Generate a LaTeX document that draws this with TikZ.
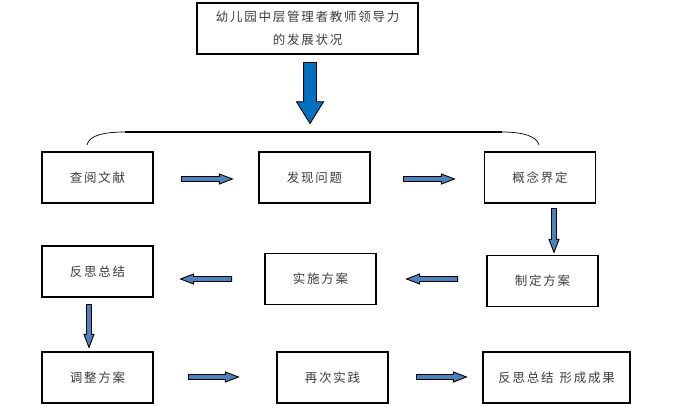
\documentclass[tikz,border=0pt]{standalone}
\usepackage{fontspec}
\setmainfont{Noto Sans CJK SC}[LetterSpace=14]
\usetikzlibrary{shapes.arrows}
\definecolor{txt}{RGB}{60,60,60}
\definecolor{arrblue}{RGB}{79,129,189}
\definecolor{bigblue}{RGB}{0,112,192}
\begin{document}
\begin{tikzpicture}[x=1pt,y=-1pt,
  box/.style={draw=black,line width=1.2pt,minimum width=111pt,minimum height=51pt,inner sep=0pt,
    font=\fontsize{12.5}{14}\selectfont,text=txt},
  barrow/.style={single arrow,draw=black,line width=0.9pt,fill=arrblue,inner sep=1.6pt,anchor=tail,
    minimum width=10pt,single arrow tip angle=42,single arrow head extend=2pt,minimum height=51pt},
  bigarrow/.style={single arrow,draw=black,line width=0.9pt,fill=bigblue,inner sep=6pt,anchor=tail,
    minimum width=25pt,single arrow tip angle=64,minimum height=61pt}]
\useasboundingbox (0,0) rectangle (675,407);
% top box
\node[box,minimum width=221pt,align=center,font=\fontsize{12.5}{23}\selectfont] (top) at (307.5,28.5)
  {幼儿园中层管理者教师领导力\\的发展状况};
\node[bigarrow,rotate=-90] (big) at (310,62) {};
% bracket
\draw[line width=0.7pt] (87,145) .. controls (89,135) and (105,132) .. (125,132);
\draw[line width=1.6pt] (125,132) -- (502,132);
\draw[line width=0.7pt] (502,132) .. controls (525,132) and (537,137) .. (539,145);
% row 1
\node[box] (b1) at (97.5,177.5) {查阅文献};
\node[box] (b2) at (314.5,177.5) {发现问题};
\node[box] (b3) at (540,177.5) {概念界定};
% row 2
\node[box] (c1) at (97.5,271.5) {反思总结};
\node[box] (c2) at (320.5,279) {实施方案};
\node[box] (c3) at (542.5,281) {制定方案};
% row 3
\node[box] (d1) at (97.5,377.5) {调整方案};
\node[box] (d2) at (332.5,377.5) {再次实践};
\node[box,minimum width=147pt] (d3) at (556.5,377.5) {反思总结\hspace{6pt}形成成果};
% arrows
\node[barrow] (a1) at (181,179) {};
\node[barrow] (a2) at (403,179) {};
\node[barrow,rotate=-90,minimum height=44pt] (a3) at (554,208) {};
\node[barrow,rotate=180] (a4) at (458,279) {};
\node[barrow,rotate=180] (a5) at (232,279) {};
\node[barrow,rotate=-90,minimum height=43pt] (a6) at (89,304) {};
\node[barrow,minimum height=50pt] (a7) at (188,377) {};
\node[barrow,minimum height=50pt] (a8) at (416,377) {};
\end{tikzpicture}
\end{document}
